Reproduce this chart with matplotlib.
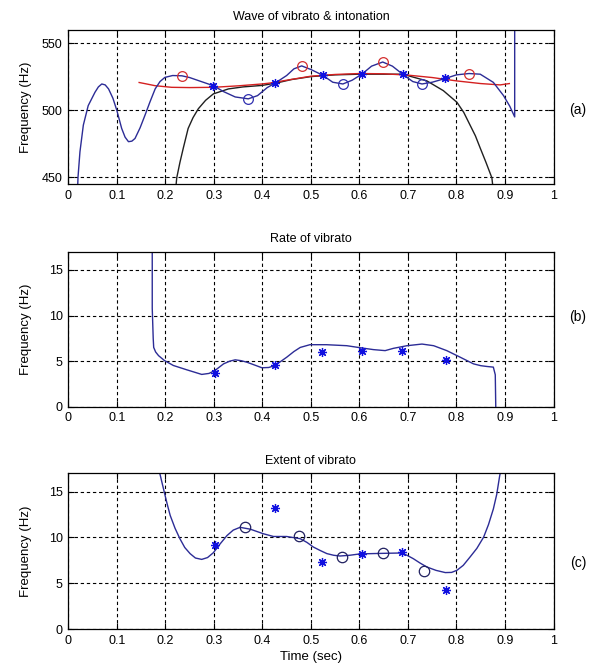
import matplotlib
matplotlib.use("Agg")
import matplotlib.pyplot as plt

plt.rcParams['font.family'] = ['Liberation Sans', 'DejaVu Sans']
plt.rcParams['font.size'] = 9

# ---------------- Panel (a): wave of vibrato & intonation ----------------
a_wave_t = [0.019, 0.020, 0.024, 0.031, 0.041, 0.055, 0.062, 0.069, 0.076, 0.083,
            0.092, 0.100, 0.110, 0.117, 0.124, 0.131, 0.1375, 0.148, 0.158, 0.168,
            0.179, 0.189, 0.199, 0.215, 0.234, 0.250, 0.270, 0.299, 0.320, 0.344,
            0.371, 0.390, 0.410, 0.426, 0.450, 0.465, 0.481, 0.500, 0.524, 0.545,
            0.566, 0.585, 0.605, 0.625, 0.648, 0.668, 0.689, 0.710, 0.729, 0.750,
            0.777, 0.800, 0.826, 0.849, 0.876, 0.897, 0.910, 0.920, 0.920]
a_wave_f = [440, 450, 469, 489, 503.5, 513.5, 517.5, 519.7, 519, 516,
            509, 500, 486.5, 480, 476.6, 477, 479, 487, 496.3, 506,
            516, 521.5, 524.6, 526, 525.8, 524.5, 522, 518.4, 514, 510,
            508.6, 511, 517, 520.3, 526, 531, 533.2, 530.5, 526.3, 521,
            519.7, 522.5, 527, 533, 536.1, 533, 527, 521.5, 519.7, 521,
            523.8, 526.5, 527.5, 527, 520.9, 511, 503, 495.1, 565]

a_trend_t = [0.221, 0.2235, 0.230, 0.237, 0.247, 0.257, 0.268, 0.283, 0.299, 0.330,
             0.360, 0.399, 0.430, 0.460, 0.500, 0.550, 0.600, 0.650, 0.689, 0.739,
             0.773, 0.801, 0.815, 0.828, 0.839, 0.849, 0.861, 0.873, 0.876]
a_trend_f = [440, 449.6, 461, 471.8, 486.5, 494.5, 501.2, 507.5, 512.3, 516,
             517.5, 518.6, 520.5, 523, 525.2, 526.5, 527, 527, 527, 522,
             514.7, 506, 498.5, 489, 481, 471.8, 461, 449.6, 440]

a_red_t = [0.146, 0.160, 0.179, 0.213, 0.250, 0.299, 0.350, 0.399, 0.416, 0.450,
           0.500, 0.550, 0.600, 0.650, 0.700, 0.750, 0.800, 0.850, 0.890, 0.909]
a_red_f = [520.8, 519.8, 518.4, 517.2, 517, 517.2, 518.3, 519.7, 520.4, 522.5,
           525.5, 526.8, 527.5, 527.3, 526.3, 524.5, 522, 520, 519, 520]

a_max_t = [0.234, 0.481, 0.648, 0.826]
a_max_f = [525.8, 533.2, 536.1, 527.5]
a_min_t = [0.371, 0.566, 0.729]
a_min_f = [508.6, 519.7, 519.7]
a_star_t = [0.299, 0.426, 0.524, 0.605, 0.689, 0.777]
a_star_f = [518.4, 520.3, 526.3, 527, 527, 523.8]

# ---------------- Panel (b): rate of vibrato ----------------
b_t = [0.173, 0.173, 0.175, 0.176, 0.180, 0.186, 0.198, 0.2165, 0.244, 0.275,
       0.290, 0.3025, 0.320, 0.333, 0.344, 0.356, 0.368, 0.385, 0.399, 0.413,
       0.426, 0.450, 0.465, 0.478, 0.498, 0.532, 0.574, 0.605, 0.629, 0.653,
       0.670, 0.698, 0.729, 0.753, 0.780, 0.808, 0.835, 0.850, 0.863, 0.876,
       0.880, 0.881]
b_f = [17.5, 10.8, 7.5, 6.5, 6.0, 5.6, 5.07, 4.52, 4.05, 3.54,
       3.65, 3.98, 4.7, 5.0, 5.14, 5.05, 4.88, 4.55, 4.27, 4.3,
       4.52, 5.42, 6.05, 6.5, 6.8, 6.8, 6.69, 6.44, 6.26, 6.15,
       6.4, 6.69, 6.87, 6.69, 6.15, 5.42, 4.7, 4.5, 4.41, 4.34,
       3.5, 0.0]
b_star_t = [0.3025, 0.426, 0.522, 0.605, 0.687, 0.778]
b_star_f = [3.69, 4.52, 5.97, 6.12, 6.15, 5.17]

# ---------------- Panel (c): extent of vibrato ----------------
c_t = [0.186, 0.189, 0.198, 0.204, 0.210, 0.220, 0.230, 0.240, 0.251, 0.262,
       0.275, 0.287, 0.299, 0.313, 0.327, 0.340, 0.354, 0.375, 0.402, 0.423,
       0.450, 0.478, 0.492, 0.505, 0.520, 0.533, 0.547, 0.560, 0.580, 0.601,
       0.648, 0.687, 0.698, 0.711, 0.725, 0.739, 0.758, 0.777, 0.790, 0.801,
       0.814, 0.828, 0.842, 0.856, 0.866, 0.876, 0.883, 0.889, 0.892]
c_f = [17.5, 16.9, 14.9, 13.6, 12.4, 11.0, 9.86, 8.9, 8.23, 7.75,
       7.6, 7.8, 8.33, 9.3, 10.2, 10.8, 11.1, 10.9, 10.4, 10.1,
       10.1, 9.86, 9.45, 8.95, 8.55, 8.23, 8.05, 7.97, 8.05, 8.2,
       8.26, 8.3, 8.05, 7.68, 7.2, 6.77, 6.4, 6.16, 6.18, 6.41,
       6.95, 7.86, 8.8, 10.03, 11.4, 13.1, 14.7, 16.7, 17.5]
c_circ_t = [0.364, 0.476, 0.565, 0.648, 0.733]
c_circ_f = [11.1, 10.2, 7.86, 8.26, 6.34]
c_star_t = [0.3025, 0.426, 0.522, 0.605, 0.687, 0.778]
c_star_f = [9.13, 13.2, 7.32, 8.23, 8.4, 4.31]

x_ticks = [0, 0.1, 0.2, 0.3, 0.4, 0.5, 0.6, 0.7, 0.8, 0.9, 1.0]
x_labels = ['0', '0.1', '0.2', '0.3', '0.4', '0.5', '0.6', '0.7', '0.8', '0.9', '1']

LINE = '#2c2c96'
STAR = (8, 2, 0)
STAR_KW = dict(linestyle='none', marker=STAR, color='#1010e0', ms=6.5, mew=0.9)

fig = plt.figure(figsize=(5.95, 6.72), dpi=100)
W, H = 595.0, 672.0


def make_axes(top, bottom):
    return fig.add_axes([68.3 / W, 1 - bottom / H, (553.5 - 68.3) / W, (bottom - top) / H])


def style(ax, title, ylim, yticks):
    ax.set_xlim(0, 1)
    ax.set_ylim(*ylim)
    ax.set_xticks(x_ticks)
    ax.set_xticklabels(x_labels)
    ax.set_yticks(yticks)
    ax.tick_params(direction='in', length=4, width=0.8, top=True, right=True,
                   labelsize=9, pad=4)
    ax.grid(True, color='black', linestyle=(0, (3, 2.5)), linewidth=0.8)
    for s in ax.spines.values():
        s.set_linewidth(0.9)
    ax.set_title(title, fontsize=9, pad=7)
    ax.set_ylabel('Frequency (Hz)', fontsize=9.5)
    ax.yaxis.set_label_coords(-0.075, 0.5)


axa = make_axes(30, 184)
axa.plot(a_trend_t, a_trend_f, color='#202020', lw=1.0)
axa.plot(a_red_t, a_red_f, color='#d42020', lw=1.0)
axa.plot(a_wave_t, a_wave_f, color=LINE, lw=1.0)
axa.plot(a_max_t, a_max_f, 'o', mfc='none', mec='#d43030', ms=7, mew=0.9)
axa.plot(a_min_t, a_min_f, 'o', mfc='none', mec='#3030b0', ms=7, mew=0.9)
axa.plot(a_star_t, a_star_f, **STAR_KW)
style(axa, 'Wave of vibrato & intonation', (445, 560), [450, 500, 550])

axb = make_axes(251.7, 406.7)
axb.plot(b_t, b_f, color=LINE, lw=1.0)
axb.plot(b_star_t, b_star_f, **STAR_KW)
style(axb, 'Rate of vibrato', (0, 17), [0, 5, 10, 15])

axc = make_axes(473.3, 629)
axc.plot(c_t, c_f, color=LINE, lw=1.0)
axc.plot(c_circ_t, c_circ_f, 'o', mfc='none', mec='#202060', ms=7.5, mew=0.9)
axc.plot(c_star_t, c_star_f, **STAR_KW)
style(axc, 'Extent of vibrato', (0, 17), [0, 5, 10, 15])
axc.set_xlabel('Time (sec)', fontsize=9.5, labelpad=3)

for lab, yp in (('(a)', 110), ('(b)', 317), ('(c)', 563)):
    fig.text(578 / W, 1 - yp / H, lab, ha='center', va='center', fontsize=10)

fig.savefig('out.png', dpi=100, facecolor='white')
